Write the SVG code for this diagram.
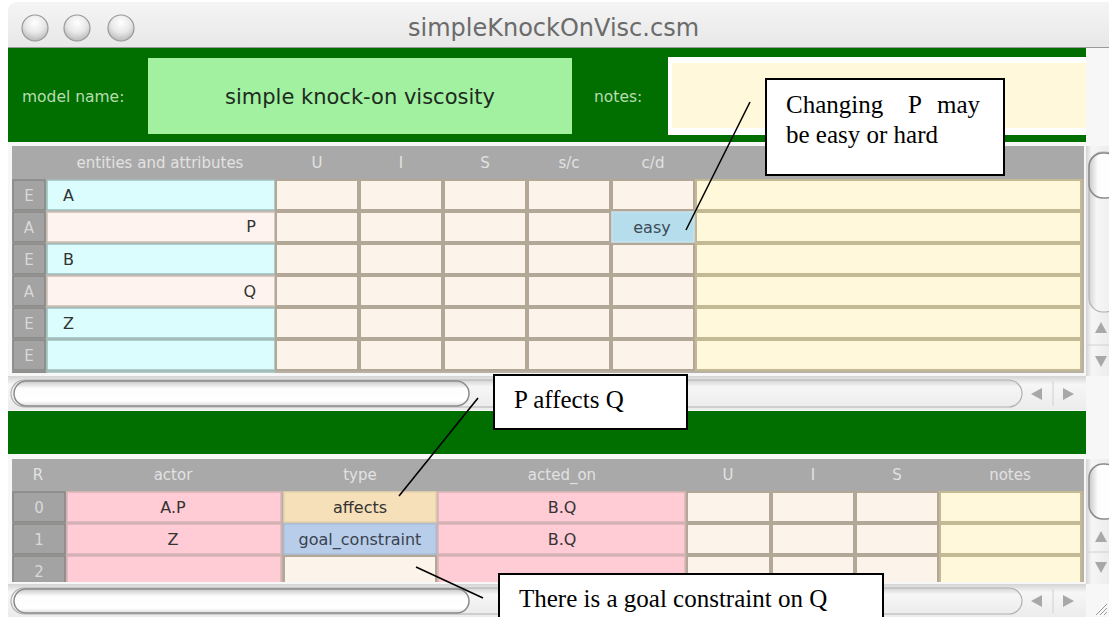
<svg xmlns="http://www.w3.org/2000/svg" width="1109" height="617" viewBox="0 0 1109 617">
<defs>
  <linearGradient id="titleGrad" x1="0" y1="0" x2="0" y2="1">
    <stop offset="0" stop-color="#f5f5f5"/><stop offset="1" stop-color="#e7e7e7"/>
  </linearGradient>
  <radialGradient id="btnGrad" cx="0.5" cy="0.3" r="0.7">
    <stop offset="0" stop-color="#ffffff"/><stop offset="0.55" stop-color="#e8e8e8"/><stop offset="1" stop-color="#b9b9b9"/>
  </radialGradient>
  <linearGradient id="hTrack" x1="0" y1="0" x2="0" y2="1">
    <stop offset="0" stop-color="#d4d4d4"/><stop offset="0.25" stop-color="#f6f6f6"/><stop offset="1" stop-color="#ececec"/>
  </linearGradient>
  <linearGradient id="hThumb" x1="0" y1="0" x2="0" y2="1">
    <stop offset="0" stop-color="#c8c8c8"/><stop offset="0.3" stop-color="#fdfdfd"/><stop offset="0.8" stop-color="#ffffff"/><stop offset="1" stop-color="#dcdcdc"/>
  </linearGradient>
  <linearGradient id="vTrack" x1="0" y1="0" x2="1" y2="0">
    <stop offset="0" stop-color="#d4d4d4"/><stop offset="0.25" stop-color="#f6f6f6"/><stop offset="1" stop-color="#ececec"/>
  </linearGradient>
  <linearGradient id="vThumb" x1="0" y1="0" x2="1" y2="0">
    <stop offset="0" stop-color="#c8c8c8"/><stop offset="0.3" stop-color="#fdfdfd"/><stop offset="1" stop-color="#ffffff"/>
  </linearGradient>
  <clipPath id="topClip"><rect x="0" y="146" width="1109" height="227"/></clipPath>
  <clipPath id="botClip"><rect x="0" y="459" width="1109" height="123"/></clipPath>

  <!-- value/notes cells of one row in the attribute table -->
  <g id="topVals">
    <rect class="val" x="276" y="1" width="82" height="30"/>
    <rect class="val" x="360" y="1" width="82" height="30"/>
    <rect class="val" x="444" y="1" width="82" height="30"/>
    <rect class="val" x="528" y="1" width="82" height="30"/>
    <rect class="val" x="612" y="1" width="82" height="30"/>
    <rect class="note" x="696" y="1" width="385" height="30"/>
  </g>
  <!-- U / I / S / notes cells of one row in the relations table -->
  <g id="botVals">
    <rect class="val" x="687" y="1" width="83" height="30"/>
    <rect class="val" x="772" y="1" width="82" height="30"/>
    <rect class="val" x="856" y="1" width="82" height="30"/>
    <rect class="note" x="940" y="1" width="141" height="30"/>
  </g>
</defs>

<style>
  .ui{font-family:"DejaVu Sans","Liberation Sans",sans-serif}
  .hdr{fill:#e2e2e2;font-size:15px;text-anchor:middle}
  .lbl{fill:#d9d9d9;font-size:15px;text-anchor:middle}
  .cell{fill:#333333;font-size:16px}
  .mid{text-anchor:middle}
  .rowhead{fill:#a3a3a3;stroke:#878787;stroke-width:1.5}
  .ent{fill:#dcfdfd;stroke:#9dbebe;stroke-width:1.5}
  .att{fill:#fff3ef;stroke:#cdbdb4;stroke-width:1.5}
  .val{fill:#fcf4ea;stroke:#b3a898;stroke-width:2}
  .note{fill:#fff8da;stroke:#c3b995;stroke-width:2}
  .pink{fill:#ffcbd5;stroke:#dcb3b8;stroke-width:1.5}
  .arrow{fill:#a8a8a8}
  .callout rect{fill:#ffffff;stroke:#000000;stroke-width:2}
  .callout text{font-family:"Liberation Serif","Times New Roman",serif;font-size:25px;fill:#000000}
  #connectors line{stroke:#000000;stroke-width:1.6}
</style>

<!-- window background -->
<rect x="0" y="0" width="1109" height="617" fill="#ffffff"/>
<rect x="8" y="48" width="1101" height="569" fill="#f7f7f7"/>

<!-- title bar -->
<g id="titlebar">
  <path d="M8 48 V12 Q8 2 18 2 H1109 V48 Z" fill="url(#titleGrad)"/>
  <line x1="8" y1="47.5" x2="1109" y2="47.5" stroke="#9a9a9a" stroke-width="1"/>
  <circle cx="35" cy="28" r="13" fill="url(#btnGrad)" stroke="#999999" stroke-width="1.2"/>
  <circle cx="77" cy="28" r="13" fill="url(#btnGrad)" stroke="#999999" stroke-width="1.2"/>
  <circle cx="121" cy="28" r="13" fill="url(#btnGrad)" stroke="#999999" stroke-width="1.2"/>
  <text class="ui" x="408" y="36" font-size="24" fill="#6b6b6b">simpleKnockOnVisc.csm</text>
</g>

<!-- model name / notes band -->
<g id="modelBand">
  <rect x="8" y="48" width="1078" height="94" fill="#006f00"/>
  <text class="ui" x="22" y="102" font-size="15.5" fill="#b9dcb0">model name:</text>
  <rect x="148" y="58" width="424" height="76" fill="#a1f1a1"/>
  <text class="ui" x="360" y="104" font-size="21" fill="#1e2a1e" text-anchor="middle">simple knock-on viscosity</text>
  <text class="ui" x="594" y="102" font-size="15.5" fill="#b9dcb0">notes:</text>
  <rect x="668" y="57" width="418" height="78" fill="#ffffff"/>
  <rect x="672" y="63" width="414" height="65" fill="#fff8da"/>
</g>

<!-- entities and attributes table -->
<g id="attrTable">
  <rect x="12" y="146" width="1072" height="33" fill="#a9a9a9"/>
  <g class="ui hdr">
    <text x="160" y="168">entities and attributes</text>
    <text x="317" y="168">U</text>
    <text x="401" y="168">I</text>
    <text x="485" y="168">S</text>
    <text x="569" y="168">s/c</text>
    <text x="653" y="168">c/d</text>
  </g>
  <g clip-path="url(#topClip)">
    <rect x="12" y="179" width="1072" height="200" fill="#b8b0a4"/>
    <!-- row 0 : entity A -->
    <rect class="rowhead" x="13" y="180" width="32" height="30"/>
    <rect class="ent" x="47" y="180" width="228" height="30"/>
    <use href="#topVals" y="179"/>
    <!-- row 1 : attribute P -->
    <rect class="rowhead" x="13" y="212" width="32" height="30"/>
    <rect class="att" x="47" y="212" width="228" height="30"/>
    <use href="#topVals" y="211"/>
    <rect x="612" y="212" width="82" height="30" fill="#b6ddec" stroke="#c8e4ee" stroke-width="1.5"/>
    <!-- row 2 : entity B -->
    <rect class="rowhead" x="13" y="244" width="32" height="30"/>
    <rect class="ent" x="47" y="244" width="228" height="30"/>
    <use href="#topVals" y="243"/>
    <!-- row 3 : attribute Q -->
    <rect class="rowhead" x="13" y="276" width="32" height="30"/>
    <rect class="att" x="47" y="276" width="228" height="30"/>
    <use href="#topVals" y="275"/>
    <!-- row 4 : entity Z -->
    <rect class="rowhead" x="13" y="308" width="32" height="30"/>
    <rect class="ent" x="47" y="308" width="228" height="30"/>
    <use href="#topVals" y="307"/>
    <!-- row 5 : empty entity -->
    <rect class="rowhead" x="13" y="340" width="32" height="30"/>
    <rect class="ent" x="47" y="340" width="228" height="30"/>
    <use href="#topVals" y="339"/>
    <rect class="rowhead" x="13" y="372" width="32" height="30"/>
    <rect class="ent" x="47" y="372" width="228" height="30"/>
  </g>
  <g class="ui lbl">
    <text x="29" y="201">E</text>
    <text x="29" y="233">A</text>
    <text x="29" y="265">E</text>
    <text x="29" y="297">A</text>
    <text x="29" y="329">E</text>
    <text x="29" y="361">E</text>
  </g>
  <g class="ui cell">
    <text x="63" y="201">A</text>
    <text x="256" y="232" text-anchor="end">P</text>
    <text x="63" y="265">B</text>
    <text x="256" y="297" text-anchor="end">Q</text>
    <text x="63" y="329">Z</text>
    <text x="652" y="233" text-anchor="middle" fill="#3c4a55">easy</text>
  </g>
</g>

<!-- upper table scrollbars -->
<g id="attrScroll">
  <rect x="8" y="376" width="1078" height="34" fill="url(#hTrack)"/>
  <rect x="11" y="380" width="1011" height="27" rx="13.5" fill="url(#hTrack)" stroke="#b0b0b0" stroke-width="1.2"/>
  <rect x="14" y="381" width="455" height="25" rx="12.5" fill="url(#hThumb)" stroke="#8a8a8a" stroke-width="1.5"/>
  <line x1="1053" y1="381" x2="1053" y2="406" stroke="#d0d0d0"/>
  <path class="arrow" d="M1031 394 L1042 388 L1042 400 Z"/>
  <path class="arrow" d="M1074 394 L1063 388 L1063 400 Z"/>
  <rect x="1086" y="146" width="23" height="230" fill="url(#vTrack)"/>
  <rect x="1089" y="152" width="30" height="160" rx="14" fill="url(#vTrack)" stroke="#b0b0b0" stroke-width="1.2"/>
  <rect x="1089" y="153" width="30" height="45" rx="14" fill="url(#vThumb)" stroke="#8a8a8a" stroke-width="1.5"/>
  <line x1="1087" y1="345" x2="1109" y2="345" stroke="#d0d0d0"/>
  <path class="arrow" d="M1101 322 L1095 333 L1107 333 Z"/>
  <path class="arrow" d="M1101 367 L1095 356 L1107 356 Z"/>
</g>

<!-- separator band -->
<rect id="midBand" x="8" y="411" width="1078" height="43" fill="#006f00"/>

<!-- relations table -->
<g id="relTable">
  <rect x="12" y="459" width="1072" height="32" fill="#a9a9a9"/>
  <g class="ui hdr">
    <text x="38" y="480">R</text>
    <text x="173" y="480">actor</text>
    <text x="360" y="480">type</text>
    <text x="562" y="480">acted_on</text>
    <text x="728" y="480">U</text>
    <text x="813" y="480">I</text>
    <text x="897" y="480">S</text>
    <text x="1010" y="480">notes</text>
  </g>
  <g clip-path="url(#botClip)">
    <rect x="12" y="491" width="1072" height="100" fill="#b8b0a4"/>
    <!-- row 0 -->
    <rect class="rowhead" x="13" y="492" width="52" height="30"/>
    <rect class="pink" x="67" y="492" width="214" height="30"/>
    <rect x="284" y="492" width="152" height="30" fill="#f6e0b9" stroke="#e6d2ad" stroke-width="1.5"/>
    <rect class="pink" x="438" y="492" width="247" height="30"/>
    <use href="#botVals" y="491"/>
    <!-- row 1 -->
    <rect class="rowhead" x="13" y="524" width="52" height="30"/>
    <rect class="pink" x="67" y="524" width="214" height="30"/>
    <rect x="284" y="524" width="152" height="30" fill="#b8cde9" stroke="#a9bedb" stroke-width="1.5"/>
    <rect class="pink" x="438" y="524" width="247" height="30"/>
    <use href="#botVals" y="523"/>
    <!-- row 2 -->
    <rect class="rowhead" x="13" y="556" width="52" height="30"/>
    <rect class="pink" x="67" y="556" width="214" height="30"/>
    <rect class="val" x="284" y="556" width="152" height="30"/>
    <rect class="pink" x="438" y="556" width="247" height="30"/>
    <use href="#botVals" y="555"/>
  </g>
  <g class="ui lbl">
    <text x="39" y="513">0</text>
    <text x="39" y="545">1</text>
    <text x="39" y="577">2</text>
  </g>
  <g class="ui cell mid">
    <text x="173" y="513">A.P</text>
    <text x="360" y="513">affects</text>
    <text x="562" y="513">B.Q</text>
    <text x="173" y="545">Z</text>
    <text x="360" y="545" fill="#3a4250">goal_constraint</text>
    <text x="562" y="545">B.Q</text>
  </g>
</g>

<!-- lower table scrollbars -->
<g id="relScroll">
  <rect x="8" y="584" width="1078" height="33" fill="url(#hTrack)"/>
  <rect x="11" y="588" width="1011" height="26" rx="13" fill="url(#hTrack)" stroke="#b0b0b0" stroke-width="1.2"/>
  <rect x="14" y="589" width="455" height="24" rx="12" fill="url(#hThumb)" stroke="#8a8a8a" stroke-width="1.5"/>
  <line x1="1053" y1="589" x2="1053" y2="613" stroke="#d0d0d0"/>
  <path class="arrow" d="M1031 601 L1042 595 L1042 607 Z"/>
  <path class="arrow" d="M1074 601 L1063 595 L1063 607 Z"/>
  <rect x="1086" y="459" width="23" height="125" fill="url(#vTrack)"/>
  <rect x="1089" y="464" width="30" height="55" rx="14" fill="url(#vThumb)" stroke="#8a8a8a" stroke-width="1.5"/>
  <line x1="1087" y1="552" x2="1109" y2="552" stroke="#d0d0d0"/>
  <path class="arrow" d="M1101 531 L1095 542 L1107 542 Z"/>
  <path class="arrow" d="M1101 573 L1095 562 L1107 562 Z"/>
  <g stroke="#9a9a9a" stroke-width="1">
    <line x1="1096" y1="615" x2="1107" y2="604"/>
    <line x1="1100" y1="615" x2="1107" y2="608"/>
    <line x1="1104" y1="615" x2="1107" y2="612"/>
  </g>
</g>

<!-- annotation leaders -->
<g id="connectors">
  <line x1="750" y1="102" x2="686" y2="230"/>
  <line x1="478" y1="398" x2="399" y2="496"/>
  <line x1="416" y1="567" x2="483" y2="598"/>
</g>

<!-- annotation boxes -->
<g id="noteEase" class="callout">
  <rect x="766" y="79" width="238" height="96"/>
  <text x="786" y="113">Changing</text>
  <text x="908" y="113">P</text>
  <text x="937" y="113">may</text>
  <text x="786" y="143">be easy or hard</text>
</g>
<g id="noteAffects" class="callout">
  <rect x="494" y="375" width="193" height="54"/>
  <text x="514" y="408">P affects Q</text>
</g>
<g id="noteGoal" class="callout">
  <rect x="499" y="574" width="384" height="60"/>
  <text x="519" y="607">There is a goal constraint on Q</text>
</g>
</svg>
